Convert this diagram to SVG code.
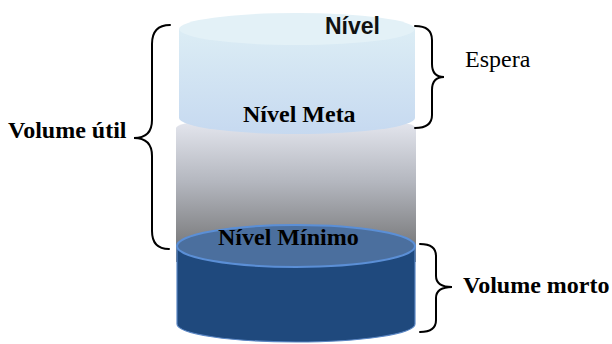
<svg xmlns="http://www.w3.org/2000/svg" width="612" height="344" viewBox="0 0 612 344">
  <defs>
    <linearGradient id="gTop" x1="0" y1="0" x2="0" y2="1">
      <stop offset="0" stop-color="#dcedf5"/>
      <stop offset="1" stop-color="#c6d9f0"/>
    </linearGradient>
    <linearGradient id="gMid" x1="0" y1="0" x2="0" y2="1">
      <stop offset="0" stop-color="#e8eaf2"/>
      <stop offset="0.45" stop-color="#b4b7bf"/>
      <stop offset="1" stop-color="#6c6c6c"/>
    </linearGradient>
    <style>
      .lbl { font-family: "Liberation Serif", "Times New Roman", serif; font-size: 24px; fill: #000; }
      .b { font-weight: bold; }
      .brace { fill: none; stroke: #000; stroke-width: 2; stroke-linecap: round; }
    </style>
  </defs>

  <rect width="612" height="344" fill="#fff"/>

  <!-- middle (useful volume) cylinder -->
  <g id="mid-cylinder">
    <path d="M176,128 A120,12 0 0 1 416,128 L416,262 L176,262 Z" fill="url(#gMid)"/>
  </g>

  <!-- top (waiting) cylinder -->
  <g id="top-cylinder">
    <path d="M179,29 L415,29 L415,118 A118,16 0 0 1 179,118 Z" fill="url(#gTop)"/>
    <ellipse cx="297" cy="29" rx="118" ry="16" fill="#e3f1f7"/>
  </g>

  <!-- bottom (dead volume) cylinder -->
  <g id="dead-cylinder">
    <path d="M177,246 L415,246 L415,324 A119,18 0 0 1 177,324 Z" fill="#1f497d" stroke="#5a86c4" stroke-width="1.2"/>
    <ellipse cx="296" cy="246" rx="119" ry="21" fill="#4b6f9e" stroke="#5b8fd6" stroke-width="2"/>
  </g>

  <!-- braces -->
  <g id="connectors">
    <path class="brace" d="M170,25 Q152,25 152,44 L152,120 Q152,138 134,138 Q152,138 152,156 L152,231 Q152,249 169,249"/>
    <path class="brace" d="M415,26 Q432,26 432,40 L432,64 Q432,77 444,77 Q432,77 432,90 L432,115 Q432,128 415,128"/>
    <path class="brace" d="M420,244 Q436,244 436,256 L436,276 Q436,287 452,287 Q436,287 436,298 L436,320 Q436,332 420,332"/>
  </g>

  <!-- labels -->
  <g id="label-nivel">
    <text x="325" y="34" font-family="'Liberation Sans', Arial, sans-serif" font-size="23" font-weight="bold" fill="#111">Nível</text>
  </g>
  <g id="label-meta">
    <text class="lbl b" x="243" y="122">Nível Meta</text>
  </g>
  <g id="label-minimo">
    <text class="lbl b" x="218" y="245">Nível Mínimo</text>
  </g>
  <g id="label-util">
    <text class="lbl b" x="8" y="138">Volume útil</text>
  </g>
  <g id="label-espera">
    <text class="lbl" x="465" y="67" font-size="25">Espera</text>
  </g>
  <g id="label-morto">
    <text class="lbl b" x="463" y="293">Volume morto</text>
  </g>
</svg>
